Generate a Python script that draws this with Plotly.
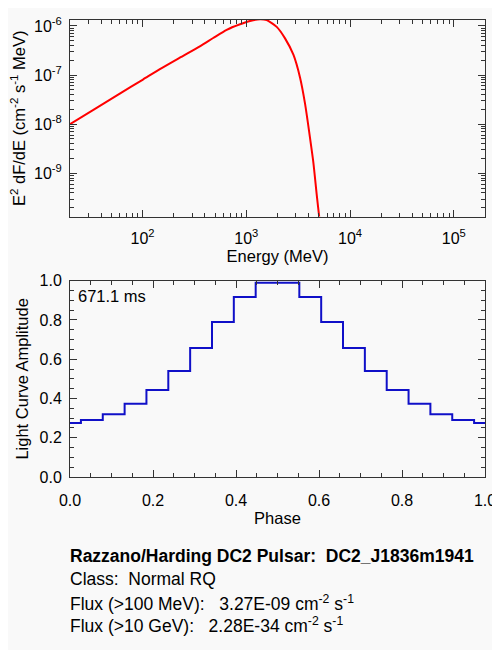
import plotly.graph_objects as go
from plotly.subplots import make_subplots

# spectrum (MeV, E^2 dF/dE)
energy = [20, 33.3, 60.4, 101, 147, 229, 357, 480, 647, 871, 1087, 1358, 1574,
          1965, 2364, 2846, 3300, 3688, 4058, 4436, 4786, 5035, 5200]
e2dfde = [1.0e-8, 1.93e-8, 4.18e-8, 8.1e-8, 1.32e-7, 2.26e-7, 3.85e-7, 5.67e-7,
          8.32e-7, 1.08e-6, 1.26e-6, 1.37e-6, 1.31e-6, 9.55e-7, 5.57e-7, 2.59e-7,
          8.83e-8, 2.59e-8, 6.52e-9, 1.64e-9, 3.52e-10, 1.36e-10, 8.0e-11]

# light curve bins (phase bin centres)
phase = [0.0, 0.0526, 0.1053, 0.1579, 0.2105, 0.2632, 0.3158, 0.3684, 0.4211, 0.4737,
         0.5263, 0.5789, 0.6316, 0.6842, 0.7368, 0.7895, 0.8421, 0.8947, 0.9474, 1.0]
amplitude = [0.275, 0.29, 0.32, 0.373, 0.443, 0.54, 0.657, 0.79, 0.917, 0.99,
             0.99, 0.917, 0.79, 0.657, 0.54, 0.443, 0.373, 0.32, 0.29, 0.275]

x_log_ticks = [100, 1000, 10000, 100000]
x_log_text = ['10<sup>2</sup>', '10<sup>3</sup>', '10<sup>4</sup>', '10<sup>5</sup>']
y_log_ticks = [1e-6, 1e-7, 1e-8, 1e-9]
y_log_text = ['10<sup>-6</sup>', '10<sup>-7</sup>', '10<sup>-8</sup>', '10<sup>-9</sup>']

info_lines = ['<b>Razzano/Harding DC2 Pulsar:  DC2_J1836m1941</b>',
              'Class:  Normal RQ',
              'Flux (>100 MeV):   3.27E-09 cm<sup>-2</sup> s<sup>-1</sup>',
              'Flux (>10 GeV):   2.28E-34 cm<sup>-2</sup> s<sup>-1</sup>']
period_label = '671.1 ms'

BG = '#f9f9f9'
AX = '#333333'
FONT = 'Liberation Sans, Arial, sans-serif'

x_minor = [m * 10 ** d for d in range(1, 6) for m in range(2, 10)]
y_minor = [m * 10.0 ** d for d in range(-10, -5) for m in range(2, 10)]

fig = make_subplots(rows=2, cols=1)
fig.add_trace(go.Scatter(x=energy, y=e2dfde, mode='lines', line_shape='spline',
                         line=dict(color='#ff0000', width=2, smoothing=0.6)), row=1, col=1)
fig.add_trace(go.Scatter(x=phase, y=amplitude, mode='lines', line_shape='hvh',
                         line=dict(color='#1010c8', width=2)), row=2, col=1)

axis_style = dict(showline=True, linecolor=AX, linewidth=1, mirror='ticks',
                  ticks='inside', ticklen=7, tickcolor=AX, showgrid=False,
                  zeroline=False, tickfont=dict(size=16, color='black'))

fig.update_xaxes(type='log', range=[1.301, 5.301], tickvals=x_log_ticks, ticktext=x_log_text,
                 minor=dict(tickvals=x_minor, ticks='inside', ticklen=4, tickcolor=AX),
                 title=dict(text='Energy (MeV)', standoff=4, font=dict(size=16.5)),
                 ticklabelstandoff=7, domain=[0, 1], row=1, col=1, **axis_style)
fig.update_yaxes(type='log', range=[-9.88, -5.88], tickvals=y_log_ticks, ticktext=y_log_text,
                 minor=dict(tickvals=y_minor, ticks='inside', ticklen=4, tickcolor=AX),
                 title=dict(text='E<sup>2</sup> dF/dE (cm<sup>-2</sup> s<sup>-1</sup> MeV)', standoff=4,
                            font=dict(size=16.5)),
                 ticklabelstandoff=4, domain=[0.5699, 1.0], row=1, col=1, **axis_style)
fig.update_xaxes(range=[0, 1], dtick=0.2, tickformat='.1f',
                 minor=dict(dtick=0.05, ticks='inside', ticklen=4, tickcolor=AX),
                 title=dict(text='Phase', standoff=4, font=dict(size=16.5)), ticklabelstandoff=9,
                 domain=[0, 1], row=2, col=1, **axis_style)
fig.update_yaxes(range=[0, 1.0], dtick=0.2, tickformat='.1f',
                 minor=dict(dtick=0.05, ticks='inside', ticklen=4, tickcolor=AX),
                 title=dict(text='Light Curve Amplitude', standoff=6, font=dict(size=16.5)),
                 ticklabelstandoff=4, domain=[0, 0.4295], row=2, col=1, **axis_style)

fig.add_annotation(text=period_label, xref='x2 domain', yref='y2 domain', x=0.015, y=0.92,
                   xanchor='left', yanchor='middle', showarrow=False, font=dict(size=16.5))

# page body adds 8 px; positions below are in page pixels of the reference
line_y = [557, 581, 605, 628]
for txt, py in zip(info_lines, line_y):
    fig.add_annotation(text=txt, xref='paper', yref='paper', x=-0.006, y=(477 - py) / 465,
                       xanchor='left', yanchor='middle', showarrow=False, font=dict(size=17.5))

fig.update_layout(width=492, height=642, showlegend=False,
                  paper_bgcolor=BG, plot_bgcolor=BG,
                  font=dict(family=FONT, size=16, color='black'),
                  margin=dict(l=62, r=15, t=4, b=173))

fig.write_html("out.html")
